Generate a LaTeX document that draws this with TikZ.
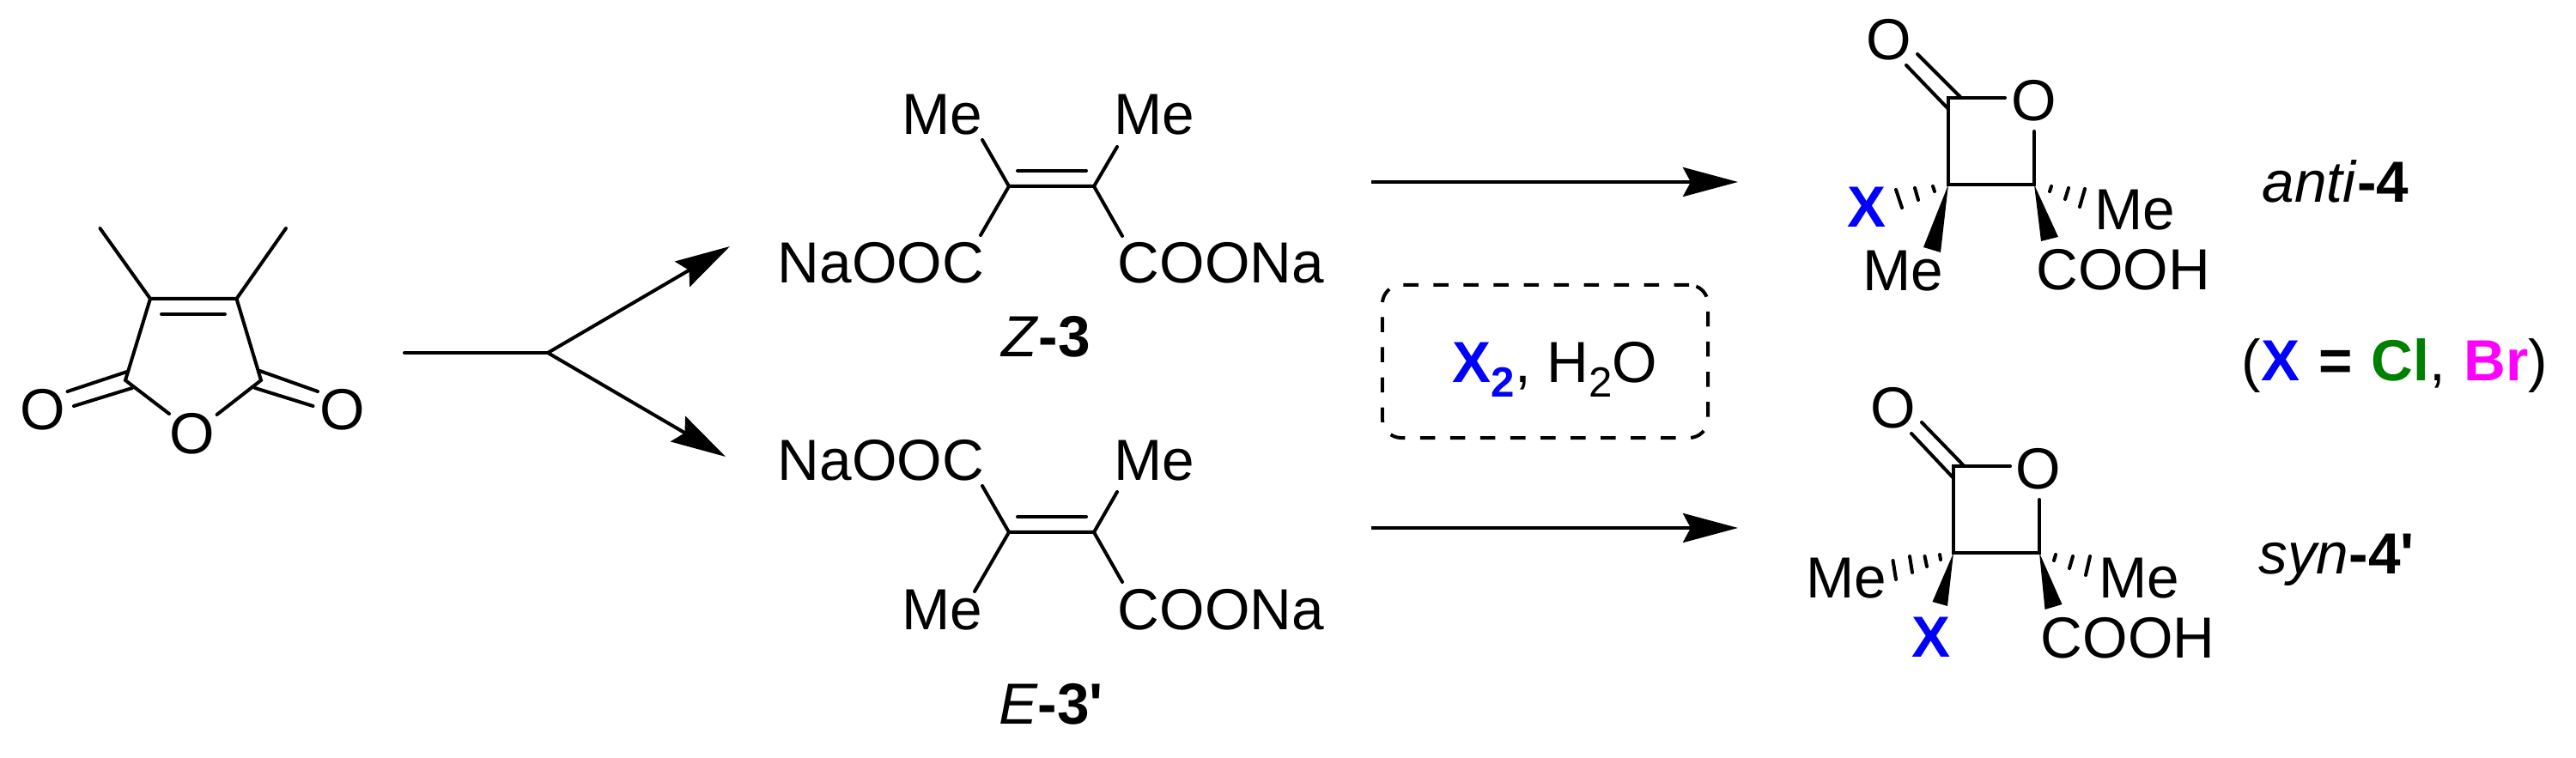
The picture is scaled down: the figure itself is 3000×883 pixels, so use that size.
\documentclass[tikz,border=0pt]{standalone}
\usepackage{fontspec}
\setmainfont{Liberation Sans}
\usetikzlibrary{arrows.meta}
\definecolor{xblue}{RGB}{0,0,255}
\definecolor{clgreen}{RGB}{0,128,0}
\definecolor{brpink}{RGB}{255,0,255}
\tikzset{
	atom/.style={inner sep=0pt,anchor=base,font=\fontsize{19.2}{23}\selectfont},
	halogen/.style={atom,text=xblue,font=\fontsize{19.2}{23}\selectfont\bfseries},
	bond/.style={line width=0.04cm,line cap=round},
	hash/.style={line width=0.04cm,line cap=round},
	wedge/.style={fill=black,draw=none},
	rxn/.style={line width=0.04cm,-{Stealth[length=0.64cm,width=0.34cm,inset=0.09cm]}}
}
\newcommand{\subnum}[1]{\raisebox{-0.16cm}{\fontsize{14}{14}\selectfont #1}}
\newcommand{\gap}{\hspace{0.22cm}}
\begin{document}
\begin{tikzpicture}[x=0.01cm,y=-0.01cm]
	\useasboundingbox (0,0) rectangle (3000,883);

	% anhydride
	\node[atom] (anO1) at (50,501) {O};
	\node[atom] (anO2) at (224,529) {O};
	\node[atom] (anO3) at (399,501) {O};
	\coordinate (c3) at (175,348);
	\coordinate (c4) at (275.5,348);
	\coordinate (c2) at (146,443);
	\coordinate (c5) at (304,443);
	\draw[bond] (116.5,266) -- (c3) -- (c4) -- (333,266);
	\draw[bond] (188,366) -- (262,366);
	\draw[bond] (c3) -- (c2) -- (197,482);
	\draw[bond] (c4) -- (c5) -- (252.6,483);
	\draw[bond] (78.6,456) -- (148,433);
	\draw[bond] (86,473) -- (154,452);
	\draw[bond] (370,456) -- (302.5,432);
	\draw[bond] (364.5,473) -- (297,452);

	% split arrow
	\coordinate (start) at (471,411);
	\coordinate (fork) at (638,411);
	\coordinate (upTip) at (850,287);
	\coordinate (downTip) at (845,532);
	\draw[bond] (start) -- (fork);
	\draw[rxn,line cap=round] (fork) -- (upTip);
	\draw[rxn,line cap=round] (fork) -- (downTip);

	% Z-3
	\node[atom] (zMe1) at (1097,157) {Me};
	\node[atom] (zMe2) at (1344,157) {Me};
	\node[atom] (zNa1) at (1026,330) {NaOOC};
	\node[atom] (zNa2) at (1422,330) {COONa};
	\node[atom] (zlabel) at (1218,416) {\textit{Z}\textbf{-3}};
	\coordinate (zc1) at (1175,217);
	\coordinate (zc2) at (1274,217);
	\draw[bond] (1144,163) -- (zc1) -- (zc2) -- (1301,171);
	\draw[bond] (1185,199) -- (1265,199);
	\draw[bond] (1142,274) -- (zc1);
	\draw[bond] (1307,275) -- (zc2);

	% E-3'
	\node[atom] (eNa1) at (1026,560) {NaOOC};
	\node[atom] (eMe1) at (1344,560) {Me};
	\node[atom] (eMe2) at (1097,734) {Me};
	\node[atom] (eNa2) at (1422,734) {COONa};
	\node[atom] (elabel) at (1224,844) {\textit{E}\textbf{-3\textquotesingle}};
	\coordinate (ec1) at (1175,620);
	\coordinate (ec2) at (1274,620);
	\draw[bond] (1144,566) -- (ec1) -- (ec2) -- (1301,573);
	\draw[bond] (1185,602) -- (1265,602);
	\draw[bond] (1135,689) -- (ec1);
	\draw[bond] (1307,678) -- (ec2);

	% reaction arrows and reagents
	\coordinate (topA) at (1597,212);
	\coordinate (topB) at (2024,212);
	\coordinate (botA) at (1597,615);
	\coordinate (botB) at (2024,615);
	\draw[rxn] (topA) -- (topB);
	\draw[rxn] (botA) -- (botB);
	\node[draw,line width=0.04cm,dash pattern=on 0.175cm off 0.175cm,rounded corners=0.22cm,
		minimum width=3.79cm,minimum height=1.78cm,inner sep=0pt] (reagentbox) at (1799.5,421) {};
	\node[atom] (reagent) at (1811,446) {\textcolor{xblue}{\textbf{X\subnum{2}}}, H\subnum{2}O};

	% anti-4
	\node[atom] (aO1) at (2200,70) {O};
	\node[atom] (aO2) at (2369,141) {O};
	\node[halogen] (aX) at (2174,265) {X};
	\node[atom] (aMe1) at (2486.5,268) {Me};
	\node[atom] (aMe2) at (2216,339) {Me};
	\node[atom] (aCOOH) at (2472.5,338) {COOH};
	\node[atom] (alabel) at (2720,236) {\textit{anti}\textbf{-4}};
	\coordinate (ac1) at (2269,114);
	\coordinate (ac2) at (2269,215);
	\coordinate (ac3) at (2369,215);
	\draw[bond] (2335,114) -- (ac1) -- (ac2) -- (ac3) -- (2369,153);
	\draw[bond] (2220,76) -- (2269,127);
	\draw[bond] (2233,63) -- (2283,113);
	\fill[wedge] (ac2) -- (2240,288) -- (2260,294) -- cycle;
	\fill[wedge] (ac3) -- (2377,281) -- (2397,276) -- cycle;
	\foreach \xa/\ya/\xb/\yb in {2251/217/2253/223,2230/219/2234/233,2208/221/2215/242,
		2389/217/2387/223,2409/219/2405/232,2428/220/2422/241}
		\draw[hash] (\xa,\ya) -- (\xb,\yb);

	\node[atom] (xeq) at (2789,444) {(\textcolor{xblue}{\textbf{X}}\gap\textbf{=}\gap\textcolor{clgreen}{\textbf{Cl}},\gap\textcolor{brpink}{\textbf{Br}})};

	% syn-4'
	\node[atom] (sO1) at (2204.5,499) {O};
	\node[atom] (sO2) at (2374,570) {O};
	\node[atom] (sMe1) at (2150.5,697) {Me};
	\node[atom] (sMe2) at (2491,697) {Me};
	\node[halogen] (sX) at (2249,766) {X};
	\node[atom] (sCOOH) at (2478,767) {COOH};
	\node[atom] (slabel) at (2721,669) {\textit{syn}\textbf{-4\textquotesingle}};
	\coordinate (sc1) at (2275,543);
	\coordinate (sc2) at (2275,644);
	\coordinate (sc3) at (2375,644);
	\draw[bond] (2341,543) -- (sc1) -- (sc2) -- (sc3) -- (2375,582);
	\draw[bond] (2226,505) -- (2275,557);
	\draw[bond] (2238,492) -- (2287.5,543);
	\fill[wedge] (sc2) -- (2250.5,701) -- (2268,706) -- cycle;
	\fill[wedge] (sc3) -- (2381.5,710) -- (2401.5,704) -- cycle;
	\foreach \xa/\ya/\xb/\yb in {2259/646/2260/652,2241.5/648/2244/660,2224/648/2227/667,2204.5/653/2208/675,
		2394/646/2392/653,2414/648/2410/662,2434/648/2429/670}
		\draw[hash] (\xa,\ya) -- (\xb,\yb);
\end{tikzpicture}
\end{document}
